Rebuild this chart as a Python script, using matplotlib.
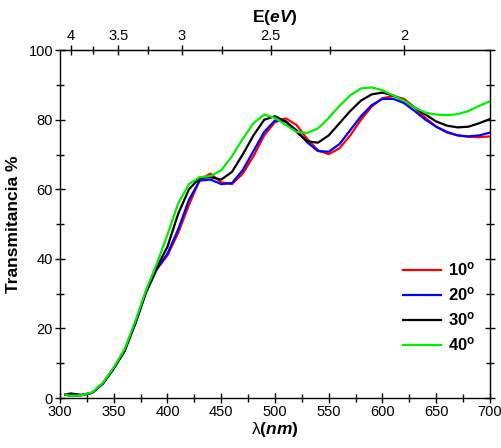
import matplotlib
matplotlib.use('Agg')
import numpy as np
import matplotlib.pyplot as plt

plt.rcParams['font.family'] = 'Liberation Sans'
plt.rcParams['mathtext.fontset'] = 'custom'
plt.rcParams['mathtext.rm'] = 'Liberation Sans'
plt.rcParams['mathtext.bf'] = 'Liberation Sans:bold'
plt.rcParams['mathtext.it'] = 'Liberation Sans:italic'
plt.rcParams['mathtext.bfit'] = 'Liberation Sans:bold:italic'

# wavelength (nm)
wl = [305, 310, 320, 330, 340, 350, 360, 370, 380, 390,
      400, 410, 420, 430, 440, 450, 460, 470, 480, 490,
      500, 510, 520, 530, 540, 550, 560, 570, 580, 590,
      600, 610, 620, 630, 640, 650, 660, 670, 680, 690, 700]

t10 = [1.0, 0.6, 0.8, 1.5, 4.2, 8.5, 13.5, 21.5, 30.5, 37.0,
       41.0, 47.5, 55.5, 62.8, 64.5, 62.0, 61.5, 64.5, 69.5, 75.5,
       79.3, 80.4, 78.5, 74.5, 71.2, 70.1, 71.8, 75.5, 80.0, 83.8,
       86.2, 86.8, 86.0, 83.5, 80.5, 78.0, 76.3, 75.5, 75.1, 75.0, 75.2]

t20 = [1.0, 0.6, 0.8, 1.5, 4.2, 8.5, 13.5, 21.3, 30.3, 37.0,
       41.5, 48.5, 57.0, 62.5, 62.8, 61.5, 61.8, 65.5, 71.0, 76.5,
       79.8, 79.5, 77.0, 73.5, 71.0, 70.8, 73.0, 77.0, 81.0, 84.2,
       86.0, 86.0, 84.8, 82.5, 80.0, 78.0, 76.5, 75.5, 75.2, 75.5, 76.3]

t30 = [1.0, 1.3, 0.9, 1.5, 4.2, 8.5, 13.5, 21.5, 30.5, 37.5,
       43.5, 53.0, 60.0, 63.3, 63.5, 62.8, 65.0, 70.0, 75.5, 80.0,
       81.0, 79.5, 76.5, 73.8, 73.4, 75.5, 79.0, 82.5, 85.5, 87.3,
       87.8, 87.0, 85.5, 83.5, 81.5, 79.5, 78.3, 77.8, 78.0, 79.0, 80.2]

t40 = [1.0, 0.6, 0.8, 1.6, 4.4, 8.8, 14.0, 22.0, 31.0, 38.5,
       47.0, 56.0, 61.5, 63.5, 63.8, 65.5, 69.5, 74.5, 79.0, 81.5,
       80.5, 78.5, 76.5, 76.2, 77.5, 80.5, 84.0, 87.0, 89.0, 89.3,
       88.5, 87.0, 85.5, 83.5, 82.0, 81.5, 81.3, 81.6, 82.5, 84.0, 85.3]

labels = [r'10$^{\mathbf{o}}$', r'20$^{\mathbf{o}}$', r'30$^{\mathbf{o}}$', r'40$^{\mathbf{o}}$']
colors = ['#ff0000', '#0000ff', '#000000', '#00ee00']

e_major = [4, 3.5, 3, 2.5, 2]
e_minor = [3.75, 3.25, 2.75, 2.25]

fig = plt.figure(figsize=(5.02, 4.48), dpi=100)
ax = fig.add_axes([0.1195, 0.1116, 0.8565, 0.7764])

for t, lab, c in zip([t10, t20, t30, t40], labels, colors):
    ax.plot(wl, t, color=c, lw=1.6, label=lab)

ax.set_xlim(300, 700)
ax.set_ylim(0, 100)
ax.set_xticks(np.arange(300, 701, 50))
ax.set_xticks(np.arange(325, 700, 50), minor=True)
ax.set_yticks(np.arange(0, 101, 20))
ax.set_yticks(np.arange(10, 100, 20), minor=True)
ax.tick_params(which='both', direction='inout', labelsize=10.5, width=1.0,
               right=True, top=False, pad=1.5)
ax.tick_params(which='major', length=7)
ax.tick_params(which='minor', length=6)
for s in ax.spines.values():
    s.set_linewidth(1.0)

ax.set_xlabel(r'$\mathrm{\lambda}\mathbf{(}\mathbfit{nm}\mathbf{)}$', fontsize=12.5, labelpad=1)
ax.set_ylabel('Transmitancia %', fontsize=12.5, fontweight='bold', labelpad=5)

sec = ax.secondary_xaxis('top', functions=(lambda x: 1240.0 / x, lambda e: 1240.0 / e))
sec.set_xticks(e_major)
sec.set_xticklabels(['4', '3.5', '3', '2.5', '2'])
sec.set_xticks(e_minor, minor=True)
sec.tick_params(which='both', direction='inout', labelsize=10.5, width=1.0, pad=1.5)
sec.tick_params(which='major', length=7)
sec.tick_params(which='minor', length=6)
sec.set_xlabel(r'$\mathbf{E(}\mathbfit{eV}\mathbf{)}$', fontsize=12.5, labelpad=5)

leg = ax.legend(loc='lower right', bbox_to_anchor=(1.0, 0.085), frameon=False,
                prop={'weight': 'bold', 'size': 12}, handlelength=2.3,
                handletextpad=0.4, labelspacing=0.42)

fig.savefig('out.png', dpi=100)
